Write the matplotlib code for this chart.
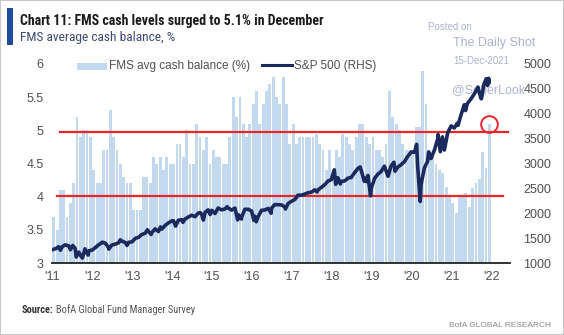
import matplotlib
matplotlib.use("Agg")
import matplotlib.pyplot as plt
import matplotlib.dates as mdates
from matplotlib.patches import Rectangle
from matplotlib.lines import Line2D
import pandas as pd

# FMS average cash balance (%), one value per month, Jan 2011 - Dec 2021
cash_2011 = [3.7, 3.5, 4.1, 4.1, 3.7, 3.9, 4.2, 5.2, 4.9, 5.0, 5.0, 4.9]
cash_2012 = [4.4, 4.2, 4.2, 4.7, 4.7, 5.3, 4.9, 4.7, 4.5, 4.3, 4.2, 4.2]
cash_2013 = [3.8, 3.8, 3.8, 4.3, 4.3, 4.2, 4.6, 4.5, 4.6, 4.4, 4.6, 4.5]
cash_2014 = [4.5, 4.8, 4.8, 4.6, 5.0, 4.5, 4.5, 5.1, 4.9, 4.7, 4.9, 4.5]
cash_2015 = [4.7, 4.6, 4.6, 4.5, 4.5, 4.9, 5.5, 5.2, 5.5, 5.1, 4.9, 5.1]
cash_2016 = [5.4, 5.6, 5.1, 5.4, 5.6, 5.7, 5.8, 5.5, 5.4, 5.8, 5.4, 4.8]
cash_2017 = [5.1, 4.8, 4.9, 4.9, 4.9, 4.9, 4.9, 4.95, 4.8, 4.7, 4.4, 4.7]
cash_2018 = [4.4, 4.7, 4.6, 4.95, 4.9, 4.8, 4.7, 4.9, 5.1, 5.1, 4.9, 4.8]
cash_2019 = [4.9, 4.7, 4.7, 4.6, 4.8, 5.6, 5.2, 5.1, 5.0, 4.8, 4.7, 4.7]
cash_2020 = [4.7, 5.05, 5.05, 5.9, 5.4, 4.7, 4.6, 4.5, 4.4, 4.35, 4.15, 4.0]
cash_2021 = [3.9, 3.76, 4.0, 4.03, 4.05, 3.85, 4.13, 4.2, 4.26, 4.67, 4.43, 5.1]

# S&P 500 (RHS)
sp_dates = [
    "2011-01-03", "2011-01-31", "2011-02-28", "2011-03-16", "2011-03-31", "2011-04-29", "2011-05-31",
    "2011-06-16", "2011-06-30", "2011-07-07", "2011-07-29", "2011-08-08", "2011-08-31", "2011-09-22",
    "2011-09-30", "2011-10-03", "2011-10-27", "2011-10-31", "2011-11-25", "2011-11-30", "2011-12-30",
    "2012-01-31", "2012-02-29", "2012-03-30", "2012-04-02", "2012-04-30", "2012-05-31", "2012-06-01",
    "2012-06-29", "2012-07-31", "2012-08-31", "2012-09-14", "2012-09-28", "2012-10-31", "2012-11-15",
    "2012-11-30", "2012-12-31",
    "2013-01-31", "2013-02-28", "2013-03-28", "2013-04-30", "2013-05-21", "2013-05-31", "2013-06-24",
    "2013-06-28", "2013-07-31", "2013-08-30", "2013-09-18", "2013-09-30", "2013-10-31", "2013-11-29",
    "2013-12-31",
    "2014-01-15", "2014-02-03", "2014-02-28", "2014-03-31", "2014-04-11", "2014-04-30", "2014-05-30",
    "2014-06-30", "2014-07-31", "2014-08-29", "2014-09-18", "2014-09-30", "2014-10-15", "2014-10-31",
    "2014-11-28", "2014-12-16", "2014-12-31",
    "2015-01-30", "2015-02-27", "2015-03-31", "2015-04-30", "2015-05-21", "2015-05-29", "2015-06-30",
    "2015-07-31", "2015-08-25", "2015-08-31", "2015-09-29", "2015-09-30", "2015-10-30", "2015-11-30",
    "2015-12-31",
    "2016-01-20", "2016-01-29", "2016-02-11", "2016-02-29", "2016-03-31", "2016-04-29", "2016-05-31",
    "2016-06-27", "2016-06-30", "2016-07-29", "2016-08-31", "2016-09-30", "2016-10-31", "2016-11-04",
    "2016-11-30", "2016-12-30",
    "2017-01-31", "2017-02-28", "2017-03-31", "2017-04-28", "2017-05-31", "2017-06-30", "2017-07-31",
    "2017-08-21", "2017-08-31", "2017-09-29", "2017-10-31", "2017-11-30", "2017-12-29",
    "2018-01-26", "2018-02-08", "2018-02-28", "2018-03-23", "2018-03-29", "2018-04-30", "2018-05-31",
    "2018-06-29", "2018-07-31", "2018-08-31", "2018-09-20", "2018-10-29", "2018-10-31", "2018-11-23",
    "2018-11-30", "2018-12-24", "2018-12-31",
    "2019-01-31", "2019-02-28", "2019-03-29", "2019-04-30", "2019-05-31", "2019-06-03", "2019-06-28",
    "2019-07-26", "2019-08-05", "2019-08-30", "2019-09-30", "2019-10-31", "2019-11-29", "2019-12-31",
    "2020-01-31", "2020-02-19", "2020-02-28", "2020-03-23", "2020-03-31", "2020-04-30", "2020-05-29",
    "2020-06-08", "2020-06-30", "2020-07-31", "2020-08-31", "2020-09-02", "2020-09-23", "2020-10-12",
    "2020-10-30", "2020-11-30", "2020-12-31",
    "2021-01-29", "2021-02-26", "2021-03-04", "2021-03-31", "2021-04-30", "2021-05-12", "2021-05-28",
    "2021-06-30", "2021-07-30", "2021-08-31", "2021-09-02", "2021-09-30", "2021-10-04", "2021-10-29",
    "2021-11-18", "2021-11-30", "2021-12-10", "2021-12-14",
]
sp_values = [
    1271, 1286, 1327, 1257, 1326, 1364, 1345,
    1268, 1321, 1353, 1292, 1119, 1219, 1130,
    1131, 1099, 1285, 1253, 1159, 1247, 1258,
    1312, 1366, 1408, 1419, 1398, 1310, 1278,
    1362, 1379, 1407, 1466, 1441, 1412, 1353,
    1416, 1426,
    1498, 1515, 1569, 1598, 1669, 1631, 1573,
    1606, 1686, 1633, 1725, 1682, 1757, 1806,
    1848,
    1848, 1741, 1859, 1872, 1816, 1884, 1924,
    1960, 1931, 2003, 2011, 1972, 1862, 2018,
    2068, 1973, 2059,
    1995, 2105, 2068, 2086, 2131, 2107, 2063,
    2104, 1867, 1972, 1884, 1920, 2079, 2080,
    2044,
    1859, 1940, 1829, 1932, 2060, 2065, 2097,
    2001, 2099, 2174, 2171, 2168, 2126, 2085,
    2199, 2239,
    2279, 2364, 2363, 2384, 2412, 2423, 2470,
    2428, 2472, 2519, 2575, 2648, 2674,
    2873, 2581, 2714, 2588, 2641, 2648, 2705,
    2718, 2816, 2902, 2931, 2641, 2712, 2633,
    2760, 2351, 2507,
    2704, 2784, 2834, 2946, 2752, 2744, 2942,
    3026, 2845, 2926, 2977, 3038, 3141, 3231,
    3226, 3386, 2954, 2237, 2585, 2912, 3044,
    3232, 3100, 3271, 3500, 3580, 3237, 3535,
    3270, 3622, 3756,
    3714, 3811, 3768, 3973, 4181, 4063, 4204,
    4298, 4395, 4523, 4537, 4308, 4300, 4605,
    4705, 4567, 4712, 4634,
]

left_ticks = [3, 3.5, 4, 4.5, 5, 5.5, 6]
left_labels = ["3", "3.5", "4", "4.5", "5", "5.5", "6"]
right_ticks = [1000, 1500, 2000, 2500, 3000, 3500, 4000, 4500, 5000]

cash = (cash_2011 + cash_2012 + cash_2013 + cash_2014 + cash_2015 + cash_2016
        + cash_2017 + cash_2018 + cash_2019 + cash_2020 + cash_2021)
months = pd.date_range("2011-01-01", periods=len(cash), freq="MS") + pd.Timedelta(days=14)
sp = pd.Series(sp_values, index=pd.to_datetime(sp_dates))

# condensed face for the header/footer, plain sans for the axes
COND = ["Roboto Condensed", "Asap Condensed", "Liberation Sans"]
plt.rcParams["font.family"] = ["Liberation Sans", "DejaVu Sans"]

W, H = 564, 335
BAR = "#c3d9ef"
NAVY = "#1b2a5c"
RED = "#e8262b"
GREY = "#505050"
WM = "#aeb2d4"


def px(x, y):
    return x / W, 1 - y / H


fig = plt.figure(figsize=(W / 100, H / 100), dpi=100)
# plot area: x 52..510 px, y 64..263 px
ax = fig.add_axes([52 / W, (H - 263) / H, 458 / W, 199 / H])
ax2 = ax.twinx()

ax.bar(months, cash, width=26, color=BAR, linewidth=0, zorder=1)
ax.set_ylim(3, 6)
ax.set_yticks(left_ticks)
ax.set_yticklabels(left_labels)
ax.set_xlim(pd.Timestamp("2010-12-29"), pd.Timestamp("2022-06-23"))
ax.xaxis.set_major_locator(mdates.YearLocator())
ax.xaxis.set_major_formatter(mdates.DateFormatter("'%y"))

# red reference lines and circle
ax2.axhline(3640, xmin=8 / 458, xmax=455.7 / 458, color=RED, lw=1.6, clip_on=False, zorder=1)
ax2.axhline(2340, xmin=5 / 458, xmax=451 / 458, color=RED, lw=1.6, clip_on=False, zorder=1)
ax2.plot(sp.index, sp.values, color=NAVY, lw=2.6, solid_joinstyle="round", zorder=2)
ax2.plot([pd.Timestamp("2021-12-09")], [3800], marker="o", ms=12, mfc="none",
         mec=RED, mew=1.4, clip_on=False, zorder=3)
ax2.set_ylim(1000, 5000)
ax2.set_yticks(right_ticks)

for a in (ax, ax2):
    a.patch.set_visible(False)
    for s in a.spines.values():
        s.set_visible(False)
    a.tick_params(length=0, labelsize=9, labelcolor=GREY)
ax.spines["bottom"].set_visible(True)
ax.spines["bottom"].set_color("#222222")
ax.spines["bottom"].set_linewidth(1.3)
ax.tick_params(axis="y", pad=6)
ax.tick_params(axis="x", pad=6)
ax2.tick_params(axis="y", pad=9.5)

# legend
fig.patches.append(Rectangle(px(77, 70), 30 / W, 7 / H, transform=fig.transFigure,
                             color=BAR, lw=0))
fig.text(*px(109, 66), "FMS avg cash balance (%)", fontsize=8.5, color=GREY, va="center")
fig.lines.append(Line2D([262 / W, 292 / W], [1 - 65 / H, 1 - 65 / H], transform=fig.transFigure,
                        color=NAVY, lw=2.2))
fig.text(*px(294, 66), "S&P 500 (RHS)", fontsize=8.5, color=GREY, va="center")

# header
fig.patches.append(Rectangle(px(7, 45), 6 / W, 37 / H, transform=fig.transFigure,
                             color="#1f4d9e", lw=0))
fig.text(*px(20, 25), "Chart 11: FMS cash levels surged to 5.1% in December",
         fontsize=10, fontweight="bold", color="#1a1a1a", family=COND, va="baseline")
fig.text(*px(20, 41.5), "FMS average cash balance, %", fontsize=9.6, color="#3c4a78",
         family=COND, va="baseline")

# watermark
fig.text(*px(450, 27), "Posted on", fontsize=7, color=WM, ha="center", va="center", zorder=-1)
fig.text(*px(453, 43), "The Daily Shot", fontsize=9, color=WM, va="center", zorder=-1)
fig.text(*px(453, 61), "15-Dec-2021", fontsize=7, color=WM, va="center", zorder=-1)
fig.text(*px(452, 90), "@SoberLook", fontsize=9, color=WM, va="center", zorder=-1)

# footer
fig.text(*px(22, 310), "Source:", fontsize=7.5, fontweight="bold", color="#333333",
         family=COND, va="center")
fig.text(*px(56, 310), "BofA Global Fund Manager Survey", fontsize=7.5, color="#555555",
         family=COND, va="center")
fig.text(*px(551, 325.5), "BofA GLOBAL RESEARCH", fontsize=6, color="#888888",
         ha="right", va="center")

fig.patches.append(Rectangle((0, 0), 1, 1, transform=fig.transFigure, fill=False,
                             edgecolor="#c8c8c8", lw=1.5))

fig.savefig("out.png", dpi=100)
